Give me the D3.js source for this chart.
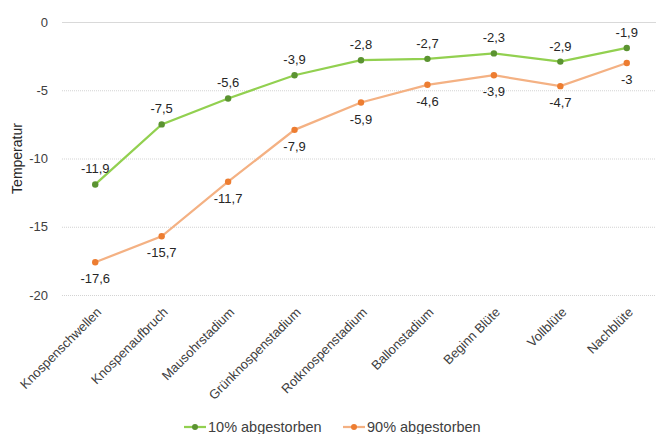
<!DOCTYPE html>
<meta charset="utf-8">
<script src="https://d3js.org/d3.v7.min.js"></script>
<style>
  body { margin: 0; background: #fff; }
  text { font-family: "Liberation Sans", Arial, sans-serif; fill: #262626; }
</style>
<div id="chart"></div>
<script>
  // categories and series
  var stages = ["Knospenschwellen", "Knospenaufbruch", "Mausohrstadium", "Grünknospenstadium",
    "Rotknospenstadium", "Ballonstadium", "Beginn Blüte", "Vollblüte", "Nachblüte"];
  var tenPct = [-11.9, -7.5, -5.6, -3.9, -2.8, -2.7, -2.3, -2.9, -1.9];
  var ninetyPct = [-17.6, -15.7, -11.7, -7.9, -5.9, -4.6, -3.9, -4.7, -3];
  var yTicks = [0, -5, -10, -15, -20];
  var seriesNames = ["10% abgestorben", "90% abgestorben"];

  var width = 656, height = 434;
  var margin = {top: 22, right: -4, bottom: 139, left: 62};

  var svg = d3.select("#chart").append("svg")
    .attr("width", width)
    .attr("height", height);

  var x = d3.scalePoint()
    .domain(stages)
    .range([margin.left, width - margin.right])
    .padding(0.5);

  var y = d3.scaleLinear()
    .domain([-20, 0])
    .range([height - margin.bottom, margin.top]);

  // gridlines
  svg.append("g").selectAll("line")
    .data(yTicks)
    .enter().append("line")
      .attr("x1", margin.left)
      .attr("x2", width)
      .attr("y1", function(d) { return y(d) + 0.5; })
      .attr("y2", function(d) { return y(d) + 0.5; })
      .attr("stroke", function(d) { return d == 0 ? "#d9d9d9" : "#c8c8c8"; })
      .attr("stroke-width", function(d) { return d == 0 ? 1 : 0.8; })
      .attr("stroke-dasharray", function(d) { return d == 0 ? null : "1,1"; });

  // y axis labels
  svg.append("g").selectAll("text")
    .data(yTicks)
    .enter().append("text")
      .attr("x", 48)
      .attr("y", function(d) { return y(d); })
      .attr("dy", "0.35em")
      .attr("text-anchor", "end")
      .style("font-size", "13px")
      .style("fill", "#404040")
      .text(function(d) { return d; });

  svg.append("text")
    .attr("transform", "translate(22," + y(-10) + ") rotate(-90)")
    .attr("text-anchor", "middle")
    .style("font-size", "14px")
    .text("Temperatur");

  // x labels, rotated
  svg.append("g").selectAll("text")
    .data(stages)
    .enter().append("text")
      .attr("transform", function(d) { return "translate(" + (x(d) + 7) + ",313) rotate(-45)"; })
      .attr("text-anchor", "end")
      .style("font-size", "13px")
      .style("fill", "#404040")
      .text(function(d) { return d; });

  var series = [
    {name: seriesNames[0], values: tenPct, line: "#92d050", dot: "#5b9331", above: true},
    {name: seriesNames[1], values: ninetyPct, line: "#f4b183", dot: "#ed7d31", above: false}
  ];

  var line = d3.line()
    .x(function(d, i) { return x(stages[i]); })
    .y(function(d) { return y(d); });

  series.forEach(function(s) {
    svg.append("path")
      .datum(s.values)
      .attr("fill", "none")
      .attr("stroke", s.line)
      .attr("stroke-width", 2.25)
      .attr("d", line);

    svg.append("g").selectAll("circle")
      .data(s.values)
      .enter().append("circle")
        .attr("cx", function(d, i) { return x(stages[i]); })
        .attr("cy", function(d) { return y(d); })
        .attr("r", 3.2)
        .attr("fill", s.dot);

    svg.append("g").selectAll("text")
      .data(s.values)
      .enter().append("text")
        .attr("x", function(d, i) { return x(stages[i]); })
        .attr("y", function(d) { return y(d) + (s.above ? -11 : 21); })
        .attr("text-anchor", "middle")
        .style("font-size", "13px")
        .text(function(d) { return String(d).replace(".", ","); });
  });

  // legend
  var legend = svg.append("g").attr("transform", "translate(0,427)");
  var lx = [184, 343];
  series.forEach(function(s, i) {
    legend.append("line")
      .attr("x1", lx[i]).attr("x2", lx[i] + 22)
      .attr("y1", 0).attr("y2", 0)
      .attr("stroke", s.line).attr("stroke-width", 2.25);
    legend.append("circle")
      .attr("cx", lx[i] + 11).attr("cy", 0).attr("r", 3)
      .attr("fill", s.dot);
    legend.append("text")
      .attr("x", lx[i] + 24).attr("y", 0).attr("dy", "0.35em")
      .style("font-size", "14.5px")
      .style("fill", "#404040")
      .text(s.name);
  });
</script>
